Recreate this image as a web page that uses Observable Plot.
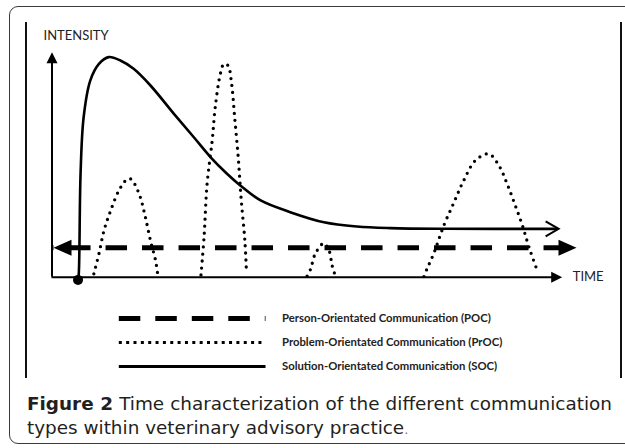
<!DOCTYPE html>
<html>
<head>
<meta charset="utf-8">
<script src="https://cdn.jsdelivr.net/npm/d3@7"></script>
<script src="https://cdn.jsdelivr.net/npm/@observablehq/plot@0.6"></script>
<style>
  html, body { margin: 0; padding: 0; background: #fff; }
  body { width: 625px; height: 448px; position: relative; overflow: hidden; font-family: Lato, "Open Sans", sans-serif; }
  #outer { position: absolute; left: 9px; top: 6px; width: 650px; height: 438px; border: 1.4px solid #3a3a3a; border-radius: 9px; box-sizing: border-box; }
  .vline { position: absolute; top: 22px; height: 356px; width: 0; border-left: 2px solid #111; }
  #chart { position: absolute; left: 0; top: 0; }
  #legend { position: absolute; left: 0; top: 300px; }
  #caption { position: absolute; left: 27px; top: 392px; width: 586px; color: #231f20; font-family: "DejaVu Sans", sans-serif; font-size: 18.4px; line-height: 24.3px; }
  #caption .l1 { white-space: nowrap; display: inline-block; }
  #caption b { font-weight: 700; }
  #caption .dot { color: #777; font-size: 13px; }
  svg { overflow: visible; }
</style>
</head>
<body>
<div id="outer"></div>
<div class="vline" style="left:25px"></div>
<div class="vline" style="left:620px"></div>
<div id="chart"></div>
<div id="legend"></div>
<div id="caption">
  <div class="l1"><b>Figure 2</b> Time characterization of the different communication</div>
  <div class="l2">types within veterinary advisory practice<span class="dot">.</span></div>
</div>
<script>
// ---- data (time and intensity in arbitrary units, 0–100) ----
const socTime      = [5.1, 5.25, 5.6, 6.2, 7.5, 9.2, 11.1, 13.4, 16.0, 19.3, 23.9, 27.8, 31.1, 34.3, 36.9, 40.9, 46.7, 53.3, 59.8, 66.3, 76.8, 99.0];
const socIntensity = [-1.2, 1.6, 46.1, 71.1, 87.4, 94.8, 97.8, 96.3, 92.6, 85.2, 72.6, 62.2, 53.3, 46.0, 40.8, 34.1, 28.9, 24.4, 22.5, 21.8, 21.5, 21.5];
const socArrowTime = 99.3;

const procEpisode1Time = [8.2, 9.2, 10.2, 11.5, 13.1, 14.6, 15.3, 16.0, 17.3, 18.3, 19.3, 20.3, 20.7];
const procEpisode1Int  = [1.5, 10.4, 20.8, 29.6, 38.5, 43.3, 43.8, 42.2, 35.6, 26.7, 16.3, 7.4, 1.5];
const procEpisode2Time = [29.2, 29.8, 30.4, 31.4, 32.0, 33.0, 33.7, 34.5, 35.2, 35.8, 36.5, 37.1, 37.8, 38.1];
const procEpisode2Int  = [1.0, 17.8, 41.5, 60.8, 75.6, 90.4, 94.8, 94.1, 86.0, 71.1, 53.3, 34.1, 16.3, 3.0];
const procEpisode3Time = [50.0, 50.7, 51.6, 53.3, 54.3, 54.9, 55.4];
const procEpisode3Int  = [0.5, 3.7, 10.4, 15.1, 11.9, 5.2, 1.5];
const procEpisode4Time = [72.9, 73.5, 74.8, 76.8, 78.8, 80.7, 83.0, 85.6, 87.6, 89.2, 90.8, 92.2, 93.5, 95.1];
const procEpisode4Int  = [0.3, 3.7, 10.4, 23.0, 33.3, 43.0, 51.9, 54.8, 49.6, 41.5, 31.9, 23.0, 13.3, 3.0];

const pocLevel = 13.1;
const pocStart = 0.3;
const pocEnd   = 102.8;

const axisLabels   = ["INTENSITY", "TIME"];
const legendLabels = [
  "Person-Orientated Communication (POC)",
  "Problem-Orientated Communication (PrOC)",
  "Solution-Orientated Communication (SOC)"
];

// ---- build tables ----
const soc = socTime.map((t, i) => ({time: t, intensity: socIntensity[i]}));
const procSets = [
  [procEpisode1Time, procEpisode1Int],
  [procEpisode2Time, procEpisode2Int],
  [procEpisode3Time, procEpisode3Int],
  [procEpisode4Time, procEpisode4Int]
];
const proc = procSets.flatMap(([ts, is], k) => ts.map((t, i) => ({episode: k + 1, time: t, intensity: is[i]})));
const poc = [{time: pocStart, intensity: pocLevel}, {time: pocEnd, intensity: pocLevel}];

// custom symbols (tip at the anchor point, pointing right)
const bigHead  = {draw(ctx) { ctx.moveTo(0, 0); ctx.lineTo(-18, -8); ctx.lineTo(-18, 8); ctx.closePath(); }};
const axisHead = {draw(ctx) { ctx.moveTo(0, 0); ctx.lineTo(-11, -5.5); ctx.lineTo(-11, 5.5); ctx.closePath(); }};
const chevron  = {draw(ctx) { ctx.moveTo(-13, -7.5); ctx.lineTo(0, 0); ctx.lineTo(-13, 7.5); }};

const chart = Plot.plot({
  width: 625,
  height: 300,
  margin: 0,
  x: {domain: [0, 100], range: [51.5, 561.7], axis: null},
  y: {domain: [0, 100], range: [276.7, 51.7], axis: null},
  style: {background: "transparent"},
  marks: [
    // axes
    Plot.ruleY([0], {x1: 0, x2: 99, stroke: "#000", strokeWidth: 2}),
    Plot.ruleX([0], {y1: 0, y2: 99, stroke: "#000", strokeWidth: 2}),
    Plot.dot([{time: 100, intensity: 0}], {x: "time", y: "intensity", symbol: axisHead, fill: "#000", stroke: "none", r: 5}),
    Plot.dot([{time: 0, intensity: 100}], {x: "time", y: "intensity", symbol: axisHead, fill: "#000", stroke: "none", r: 5, rotate: -90}),
    Plot.text([axisLabels[0]], {x: 0, y: 100, text: d => d, dx: -8.5, dy: -16.5, textAnchor: "start", fontSize: 13, fill: "#222", fontFamily: "Lato"}),
    Plot.text([axisLabels[1]], {x: 100, y: 0, text: d => d, dx: 10.5, textAnchor: "start", fontSize: 13, fill: "#222", fontFamily: "Lato"}),
    // POC: dashed, double-headed
    Plot.line(poc, {x: "time", y: "intensity", stroke: "#000", strokeWidth: 5, strokeDasharray: "21.5,15", strokeDashoffset: 21, strokeLinecap: "butt"}),
    Plot.dot([poc[0]], {x: "time", y: "intensity", symbol: bigHead, fill: "#000", stroke: "none", r: 5, rotate: 180}),
    Plot.dot([poc[1]], {x: "time", y: "intensity", symbol: bigHead, fill: "#000", stroke: "none", r: 5}),
    // PrOC: dotted episodes
    Plot.line(proc, {x: "time", y: "intensity", z: "episode", curve: "catmull-rom", stroke: "#000", strokeWidth: 3.3, strokeDasharray: "0,7", strokeLinecap: "round"}),
    // SOC: solid curve with start dot and open arrow
    Plot.line(soc, {x: "time", y: "intensity", curve: "catmull-rom", stroke: "#000", strokeWidth: 2.6}),
    Plot.dot([soc[0]], {x: "time", y: "intensity", r: 5, fill: "#000", stroke: "none"}),
    Plot.dot([{time: socArrowTime, intensity: soc[soc.length - 1].intensity}], {x: "time", y: "intensity", symbol: chevron, fill: "none", stroke: "#000", strokeWidth: 2, r: 5})
  ]
});
document.getElementById("chart").appendChild(chart);

// ---- legend ----
const legendRows = legendLabels.flatMap(label => [0, 1].map(t => ({label, t})));
const styles = [
  {strokeWidth: 5, strokeDasharray: "21.5,15"},
  {strokeWidth: 3, strokeDasharray: "3,4.35"},
  {strokeWidth: 3}
];
const legend = Plot.plot({
  width: 625,
  height: 80,
  margin: 0,
  x: {domain: [0, 1], range: [118.3, 265], axis: null},
  y: {type: "point", domain: legendLabels, range: [18, 66], padding: 0, axis: null},
  style: {background: "transparent"},
  marks: [
    ...legendLabels.map((lab, i) =>
      Plot.line(legendRows.filter(d => d.label === lab), {x: "t", y: "label", stroke: "#000", strokeLinecap: "butt", ...styles[i]})),
    Plot.text(legendLabels, {x: 1, y: d => d, text: d => d, dx: 16.5, textAnchor: "start", fontWeight: "bold", fontSize: 11.3, fill: "#222", fontFamily: "Lato"})
  ]
});
document.getElementById("legend").appendChild(legend);

// stretch caption line 1 to the full caption width (it is justified in the original)
const l1 = document.querySelector("#caption .l1");
const natural = l1.getBoundingClientRect().width;
const spaces = (l1.textContent.match(/ /g) || []).length;
l1.style.wordSpacing = ((585 - natural) / spaces) + "px";
</script>
</body>
</html>
